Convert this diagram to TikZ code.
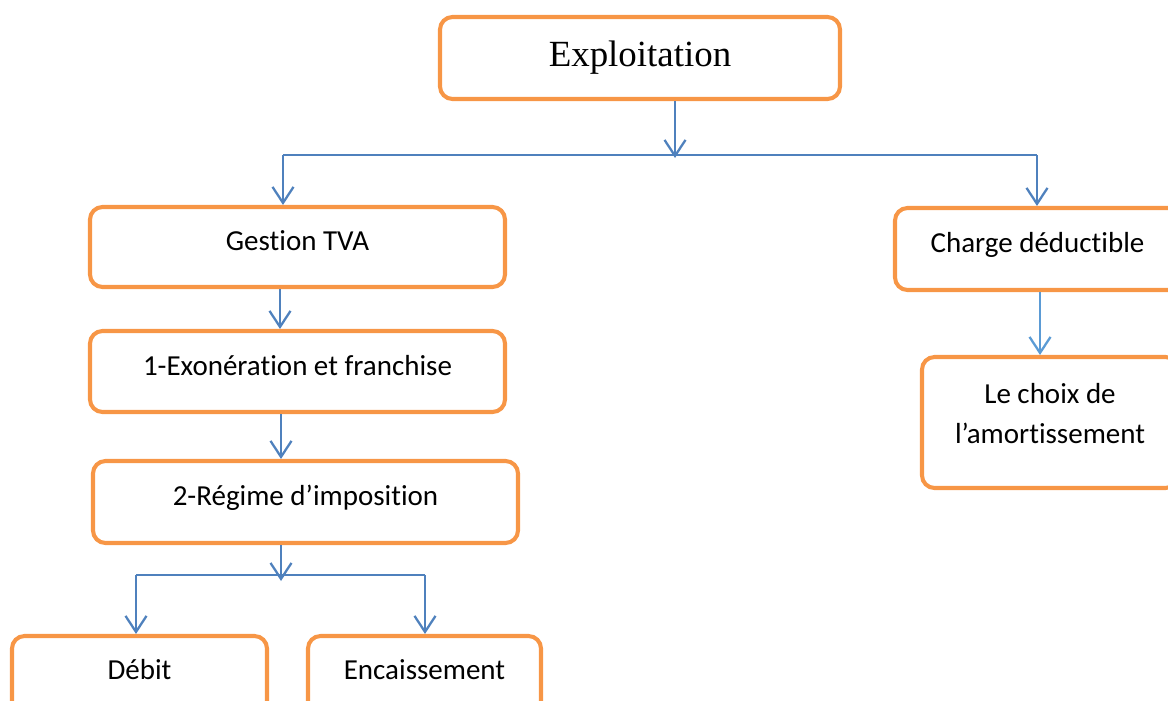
\documentclass[tikz,border=0pt]{standalone}
\usepackage{fontspec}
\setmainfont{Carlito}[Ligatures={NoCommon}]
\newfontfamily\timesfont{Liberation Serif}
\usetikzlibrary{arrows.meta}
\definecolor{boxorange}{HTML}{F79646}
\definecolor{linkblue}{HTML}{4F81BD}
\definecolor{lightblue}{HTML}{5B9BD5}

\begin{document}
\begin{tikzpicture}[
    box/.style={draw=boxorange, line width=2.3pt, rounded corners=0.25cm, align=center,
                font=\fontsize{16.5}{22.7}\selectfont},
    lift/.style={text height=0.45cm, text depth=0.3cm},
    link/.style={draw=linkblue, line width=1.3pt},
    arr/.style={link, -{Straight Barb[length=0.32cm,width=0.42cm]}}
  ]
  \useasboundingbox (0,0) rectangle (23.36,-14);
  \clip (0,0) rectangle (23.36,-14);

  % Draw the top box
  \node[box, minimum width=8cm, minimum height=1.64cm, font=\timesfont\fontsize{21}{25}\selectfont]
    (expl) at (12.8,-1.16) {Exploitation};

  % Draw the left branch
  \node[box, lift, minimum width=8.3cm, minimum height=1.6cm] (tva) at (5.95,-4.94) {Gestion TVA};
  \node[box, lift, minimum width=8.3cm, minimum height=1.62cm] (exo) at (5.95,-7.43) {1-Exonération et franchise};
  \node[box, lift, minimum width=8.5cm, minimum height=1.64cm] (regime) at (6.11,-10.04) {2-Régime d’imposition};
  \node[box, lift, minimum width=5.1cm, minimum height=1.6cm] (debit) at (2.79,-13.52) {Débit};
  \node[box, lift, minimum width=4.66cm, minimum height=1.6cm] (encaiss) at (8.49,-13.52) {Encaissement};

  % Draw the right branch
  \node[box, lift, minimum width=5.7cm, minimum height=1.64cm] (charge) at (20.75,-4.98) {Charge déductible};
  \node[box, text depth=0.36cm, minimum width=5.12cm, minimum height=2.62cm] (choix) at (21.0,-8.45) {Le choix de\\l’amortissement};

  % Junction points
  \coordinate (topsplit) at (13.5,-3.1);
  \coordinate (topL) at (5.66,-3.1);
  \coordinate (topR) at (20.74,-3.1);
  \coordinate (midA) at (5.6,-4);
  \coordinate (midB) at (5.62,-4);
  \coordinate (botsplit) at (5.62,-11.5);
  \coordinate (botL) at (2.72,-11.5);
  \coordinate (botR) at (8.5,-11.5);
  \coordinate (rightA) at (20.8,-4);

  % Draw the connectors from the top box
  \draw[arr] (expl.south -| topsplit) -- ([yshift=-0.06cm]topsplit);
  \draw[link] (topL) -- (topR);
  \draw[arr] (topL) -- (tva.north -| topL);
  \draw[arr] (topR) -- (charge.north -| topR);

  % Draw the connectors of the left branch
  \draw[arr] (tva.south -| midA) -- (exo.north -| midA);
  \draw[arr] (exo.south -| midB) -- (regime.north -| midB);
  \draw[arr] (regime.south -| botsplit) -- ([yshift=-0.12cm]botsplit);
  \draw[link] (botL) -- (botR);
  \draw[arr] (botL) -- (debit.north -| botL);
  \draw[arr] (botR) -- (encaiss.north -| botR);

  % Draw the connector of the right branch
  \draw[arr, draw=lightblue] (charge.south -| rightA) -- (choix.north -| rightA);
\end{tikzpicture}
\end{document}
